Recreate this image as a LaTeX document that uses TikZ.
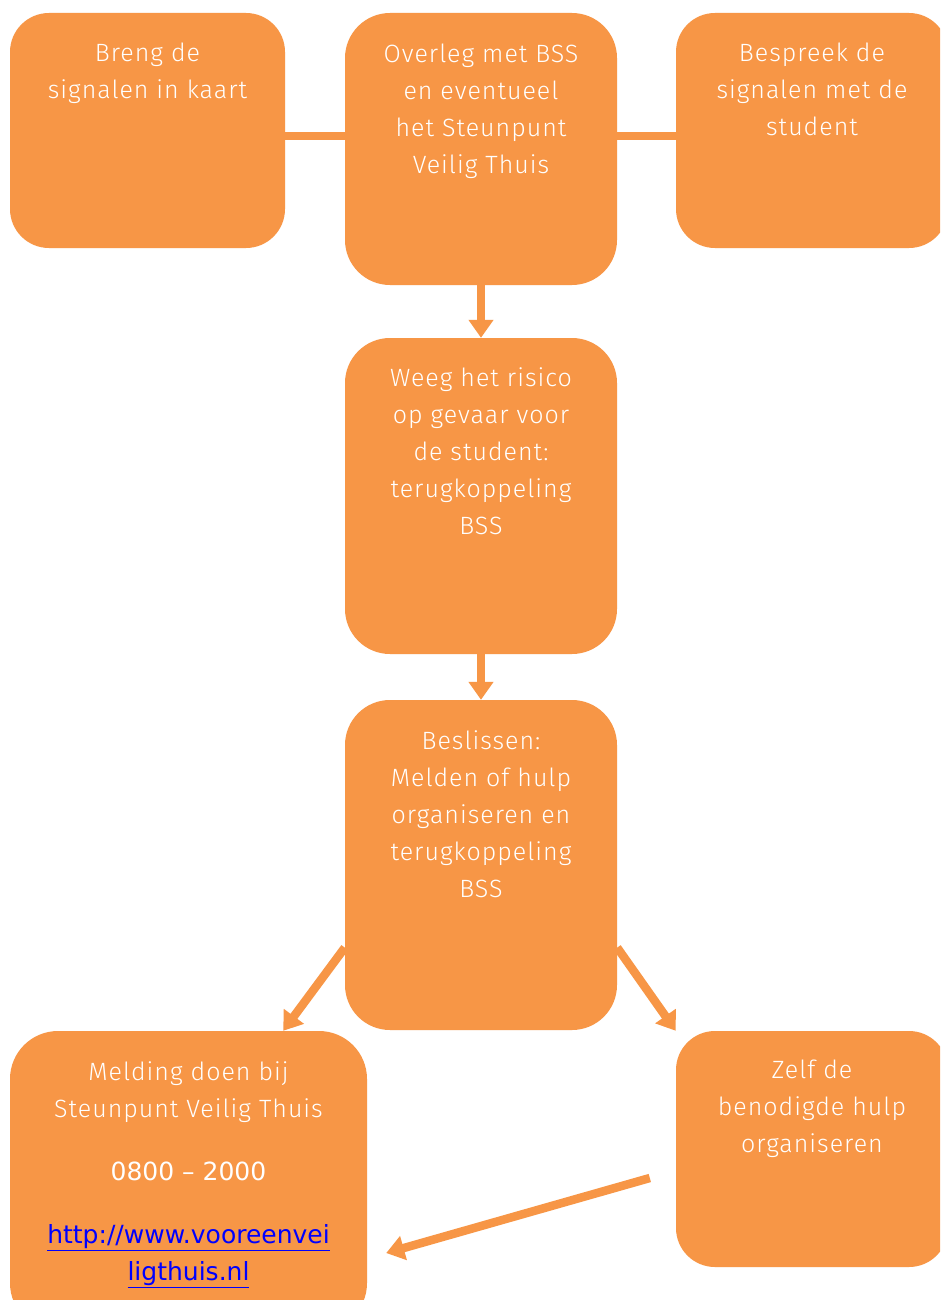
\documentclass[tikz,border=0pt]{standalone}
\usepackage{fontspec}
\setmainfont{Fira Sans Light}[LetterSpace=4]
\newfontfamily\numfont{DejaVu Sans}
\usetikzlibrary{arrows.meta,calc}
\definecolor{boxorange}{HTML}{F79646}
\definecolor{linkblue}{HTML}{0000FF}
\begin{document}
\begin{tikzpicture}[x=1pt,y=-1pt,
  box/.style={fill=boxorange, draw=none, rounded corners=#1, inner sep=0pt},
  box/.default=39pt,
  txt/.style={text=white, align=center, inner sep=0pt, anchor=north, font=\fontsize{25}{37}\selectfont},
  conn/.style={draw=boxorange, line width=8.5pt},
  arr/.style={conn, -{Triangle[width=24pt,length=18pt]}}]
\useasboundingbox[fill=white] (0,0) rectangle (940,1300);
\clip (0,0) rectangle (940,1300);
% boxes
\node[box, minimum width=275pt, minimum height=235pt] (a) at (147.5,130.5) {};
\node[box=45pt, minimum width=272pt, minimum height=272pt] (b) at (481,149) {};
\node[box, minimum width=272pt, minimum height=235pt] (c) at (812,130.5) {};
\node[box=45pt, minimum width=272pt, minimum height=316pt] (d) at (481,496) {};
\node[box=45pt, minimum width=272pt, minimum height=330pt] (e) at (481,865) {};
\node[box=48pt, minimum width=357pt, minimum height=300pt] (f) at (188.5,1181) {};
\node[box, minimum width=272pt, minimum height=236pt] (g) at (812,1149) {};
% texts
\node[txt] (ta) at ($(a.north)+(0,29.5)$) {Breng de\\signalen in kaart};
\node[txt] (tb) at ($(b.north)+(0,30.5)$) {Overleg met BSS\\en eventueel\\het Steunpunt\\Veilig Thuis};
\node[txt] (tc) at ($(c.north)+(0,29.5)$) {Bespreek de\\signalen met de\\student};
\node[txt] (td) at ($(d.north)+(0,29.5)$) {Weeg het risico\\op gevaar voor\\de student:\\terugkoppeling\\BSS};
\node[txt] (te) at ($(e.north)+(0,30.5)$) {Beslissen:\\Melden of hulp\\organiseren en\\terugkoppeling\\BSS};
\node[txt] (tg) at ($(g.north)+(0,28.5)$) {Zelf de\\benodigde hulp\\organiseren};
\node[txt] (tf) at ($(f.north)+(0,30.5)$) {Melding doen bij\\Steunpunt Veilig Thuis\\[26pt]
  {\numfont\fontsize{25}{37}\selectfont 0800 – 2000}\\[26pt]
  {\numfont\fontsize{25}{37}\selectfont\color{linkblue}\underline{http://www.vooreenvei}}\\
  {\numfont\fontsize{25}{37}\selectfont\color{linkblue}\underline{ligthuis.nl}}};
% connectors
\coordinate (ab) at ([yshift=-5.5pt]a.east);
\draw[conn] (ab) -- (ab -| b.west);
\coordinate (bc) at ([yshift=-5.5pt]c.west);
\draw[conn] (bc -| b.east) -- (bc);
\draw[arr] (b.south) -- (d.north);
\draw[arr] (d.south) -- (e.north);
\coordinate (el) at ($(e.south west)!0.25!(e.north west)$);
\coordinate (er) at ($(e.south east)!0.25!(e.north east)$);
\coordinate (fl) at ($(f.north west)!0.765!(f.north east)$);
\draw[arr] (el) -- (fl);
\draw[arr] (er) -- (g.north west);
\coordinate (gs) at ($(g.west)+(-26,29)$);
\coordinate (ft) at ($(f.east)+(19,72)$);
\draw[arr] (gs) -- (ft);
\end{tikzpicture}
\end{document}
